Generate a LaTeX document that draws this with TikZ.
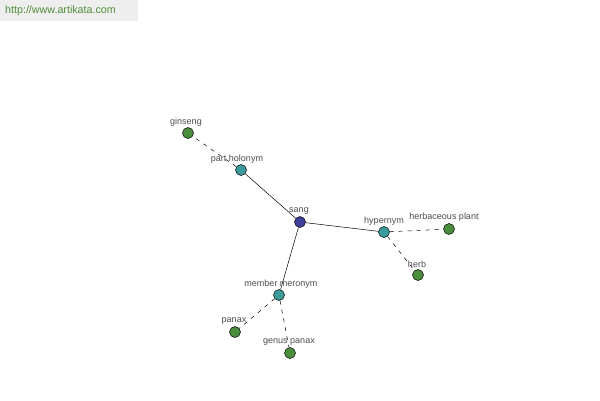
\documentclass[tikz,border=0pt]{standalone}
\usepackage{fontspec}
\setmainfont{Liberation Sans}
\begin{document}
\begin{tikzpicture}[x=1pt,y=-1pt,
  vert/.style={circle,draw=black,line width=0.5pt,minimum size=11pt,inner sep=0pt},
  root/.style={vert,fill=rootc},
  mid/.style={vert,fill=midc},
  leaf/.style={vert,fill=leafc},
  lbl/.style={font=\fontsize{9}{10}\selectfont,text=black!70,inner sep=0pt},
  solidedge/.style={line width=0.5pt},
  dashedge/.style={line width=0.5pt,dash pattern=on 4pt off 5pt}]
\definecolor{rootc}{HTML}{3F3F9C}
\definecolor{midc}{HTML}{3D9B9B}
\definecolor{leafc}{HTML}{4A8D3D}
\definecolor{bannerc}{HTML}{EEEEEE}
\definecolor{urlc}{HTML}{4E8F3A}
\useasboundingbox (0,0) rectangle (600,400);
\fill[bannerc] (0,0) rectangle (138,21);
\node[anchor=west,inner sep=0pt,text=urlc,font=\fontsize{10.7}{12}\selectfont] (url) at (5,11) {http://www.artikata.com};
% nodes
\node[root] (sang) at (300,222) {};
\node[mid] (ph) at (241,170) {};
\node[leaf] (gin) at (188,133) {};
\node[mid] (hyp) at (384,232) {};
\node[leaf] (hp) at (449,229) {};
\node[leaf] (herb) at (418,275) {};
\node[mid] (mm) at (279,295) {};
\node[leaf] (panax) at (235,332) {};
\node[leaf] (gp) at (290,353) {};
% edges
\draw[solidedge] (sang) -- (ph);
\draw[solidedge] (sang) -- (hyp);
\draw[solidedge] (sang) -- (mm);
\draw[dashedge] (ph) -- (gin);
\draw[dashedge] (hyp) -- (hp);
\draw[dashedge] (hyp) -- (herb);
\draw[dashedge] (mm) -- (panax);
\draw[dashedge] (mm) -- (gp);
% labels
\node[lbl] (lsang) at (299,211) {sang};
\node[lbl] (lph) at (237,159) {part holonym};
\node[lbl] (lgin) at (186,122) {ginseng};
\node[lbl] (lhyp) at (384,221) {hypernym};
\node[lbl] (lhp) at (444,217) {herbaceous plant};
\node[lbl] (lherb) at (417,264) {herb};
\node[lbl] (lmm) at (281,284) {member meronym};
\node[lbl] (lpanax) at (234,321) {panax};
\node[lbl] (lgp) at (289,342) {genus panax};
\end{tikzpicture}
\end{document}
